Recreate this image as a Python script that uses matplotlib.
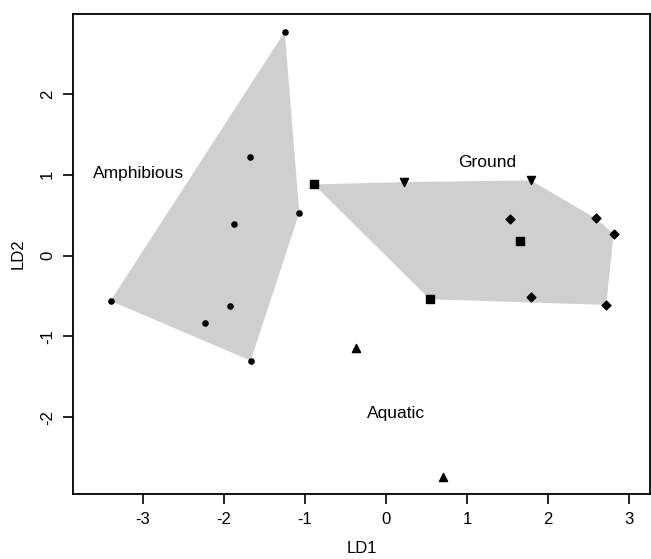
import numpy as np
import matplotlib.pyplot as plt

plt.rcParams['font.family'] = ['Liberation Sans', 'DejaVu Sans']
plt.rcParams['axes.unicode_minus'] = False

# LDA scores
amph_x = [-1.25, -1.68, -1.88, -1.07, -3.40, -1.93, -2.23, -1.67]
amph_y = [2.77, 1.22, 0.39, 0.53, -0.56, -0.62, -0.84, -1.30]

ground_sq_x = [-0.89, 1.65, 0.54]
ground_sq_y = [0.88, 0.18, -0.54]
ground_tri_x = [0.22, 1.79]
ground_tri_y = [0.91, 0.93]
ground_dia_x = [1.53, 2.59, 2.81, 1.79, 2.72]
ground_dia_y = [0.45, 0.46, 0.27, -0.51, -0.61]

aqua_x = [-0.37, 0.71]
aqua_y = [-1.14, -2.74]

labels = ["Amphibious", "Ground", "Aquatic"]
label_x = [-3.06, 1.25, 0.12]
label_y = [1.01, 1.15, -1.95]


def hull(xs, ys):
    pts = sorted(set(zip(xs, ys)))

    def cross(o, a, b):
        return (a[0] - o[0]) * (b[1] - o[1]) - (a[1] - o[1]) * (b[0] - o[0])

    lower, upper = [], []
    for p in pts:
        while len(lower) >= 2 and cross(lower[-2], lower[-1], p) <= 0:
            lower.pop()
        lower.append(p)
    for p in reversed(pts):
        while len(upper) >= 2 and cross(upper[-2], upper[-1], p) <= 0:
            upper.pop()
        upper.append(p)
    return np.array(lower[:-1] + upper[:-1])


fig = plt.figure(figsize=(6.51, 5.59), dpi=100)
ax = fig.add_axes([0.1121, 0.1163, 0.8864, 0.8587])

gx = ground_sq_x + ground_tri_x + ground_dia_x
gy = ground_sq_y + ground_tri_y + ground_dia_y
for xs, ys in [(amph_x, amph_y), (gx, gy)]:
    h = hull(xs, ys)
    ax.fill(h[:, 0], h[:, 1], color='#cfcfcf', lw=0, zorder=1)

ax.scatter(amph_x, amph_y, marker='o', s=14, c='black', zorder=3)
ax.scatter(ground_sq_x, ground_sq_y, marker='s', s=26, c='black', zorder=3)
ax.scatter(ground_tri_x, ground_tri_y, marker='v', s=34, c='black', zorder=3)
ax.scatter(ground_dia_x, ground_dia_y, marker='D', s=20, c='black', zorder=3)
ax.scatter(aqua_x, aqua_y, marker='^', s=34, c='black', zorder=3)

for t, x, y in zip(labels, label_x, label_y):
    ax.text(x, y, t, ha='center', va='center', fontsize=12.5)

ax.set_xlim(-3.864, 3.26)
ax.set_ylim(-2.95, 2.99)
ax.set_xticks([-3, -2, -1, 0, 1, 2, 3])
ax.set_yticks([-2, -1, 0, 1, 2])
ax.tick_params(direction='out', length=7, width=1.2, labelsize=12, pad=6)
plt.setp(ax.get_yticklabels(), rotation=90, va='center')
for s in ax.spines.values():
    s.set_linewidth(1.3)

ax.set_xlabel('LD1', fontsize=12, labelpad=10)
ax.set_ylabel('LD2', fontsize=12, labelpad=10)

plt.savefig('out.png', dpi=100)
